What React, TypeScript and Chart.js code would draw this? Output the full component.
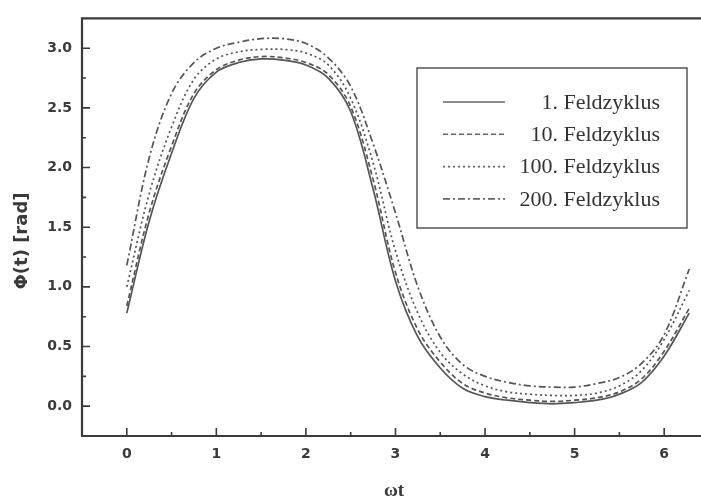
import { useEffect, useRef } from "react";
import { Chart, registerables } from "chart.js";

Chart.register(...registerables);

// Phase angle ωt (rad) at which each cycle was sampled
const PHASE = [0, 0.25, 0.5, 0.75, 1, 1.25, 1.5, 1.75, 2, 2.25, 2.5, 2.75, 3, 3.25, 3.5, 3.75, 4, 4.25, 4.5, 4.75, 5, 5.25, 5.5, 5.75, 6, 6.28];

// Φ(t) in rad for the individual field cycles
const CYCLE_1 = [0.78, 1.55, 2.12, 2.58, 2.8, 2.88, 2.91, 2.9, 2.86, 2.75, 2.47, 1.82, 1.05, 0.58, 0.32, 0.15, 0.08, 0.05, 0.03, 0.02, 0.03, 0.05, 0.1, 0.2, 0.42, 0.78];
const CYCLE_10 = [0.84, 1.62, 2.18, 2.62, 2.82, 2.9, 2.93, 2.92, 2.88, 2.78, 2.51, 1.9, 1.12, 0.64, 0.37, 0.19, 0.11, 0.07, 0.05, 0.04, 0.05, 0.07, 0.12, 0.23, 0.46, 0.82];
const CYCLE_100 = [1.0, 1.78, 2.34, 2.74, 2.91, 2.97, 2.99, 2.99, 2.96, 2.86, 2.58, 2.04, 1.3, 0.78, 0.45, 0.27, 0.17, 0.12, 0.1, 0.09, 0.09, 0.11, 0.17, 0.3, 0.56, 0.97];
const CYCLE_200 = [1.18, 2.08, 2.62, 2.88, 3.0, 3.05, 3.08, 3.08, 3.04, 2.92, 2.68, 2.2, 1.62, 1.0, 0.58, 0.35, 0.25, 0.2, 0.17, 0.16, 0.16, 0.19, 0.24, 0.36, 0.6, 1.15];

const SERIES_LABELS = ["1. Feldzyklus", "10. Feldzyklus", "100. Feldzyklus", "200. Feldzyklus"];

// Axis ticks
const X_TICKS = [0, 1, 2, 3, 4, 5, 6];
const X_MINOR = [0.5, 1.5, 2.5, 3.5, 4.5, 5.5];
const Y_TICKS = [0, 0.5, 1, 1.5, 2, 2.5, 3];
const Y_MINOR = [0.25, 0.75, 1.25, 1.75, 2.25, 2.75];

const X_TITLE = "ωt";
const Y_TITLE = "Φ(t) [rad]";

const INK = "#3a3a3a";
const LINE_INK = "#555555";
const DASHES: number[][] = [[], [5, 3], [2, 3], [7, 3, 2, 3]];

const framePlugin = {
  id: "frame",
  afterDraw(chart: any) {
    const { ctx, chartArea: a, scales } = chart;
    const xs = scales.x;
    const ys = scales.y;
    ctx.save();
    // axes box: top, left and bottom
    ctx.strokeStyle = INK;
    ctx.lineWidth = 2.2;
    ctx.beginPath();
    ctx.moveTo(chart.width, a.top);
    ctx.lineTo(a.left, a.top);
    ctx.lineTo(a.left, a.bottom);
    ctx.lineTo(chart.width, a.bottom);
    ctx.stroke();

    // inward tick marks
    ctx.lineWidth = 1.6;
    ctx.beginPath();
    X_TICKS.forEach((v) => {
      const px = xs.getPixelForValue(v);
      ctx.moveTo(px, a.bottom);
      ctx.lineTo(px, a.bottom - 8);
    });
    X_MINOR.forEach((v) => {
      const px = xs.getPixelForValue(v);
      ctx.moveTo(px, a.bottom);
      ctx.lineTo(px, a.bottom - 4);
    });
    Y_TICKS.forEach((v) => {
      const py = ys.getPixelForValue(v);
      ctx.moveTo(a.left, py);
      ctx.lineTo(a.left + 8, py);
    });
    Y_MINOR.forEach((v) => {
      const py = ys.getPixelForValue(v);
      ctx.moveTo(a.left, py);
      ctx.lineTo(a.left + 4, py);
    });
    ctx.stroke();

    // axis titles
    ctx.fillStyle = INK;
    ctx.textAlign = "center";
    ctx.textBaseline = "middle";
    ctx.font = "bold 19px 'Liberation Serif'";
    ctx.fillText(X_TITLE, 394, 491);
    ctx.save();
    ctx.translate(22, 241);
    ctx.rotate(-Math.PI / 2);
    ctx.font = "bold 18px 'DejaVu Sans'";
    ctx.fillText(Y_TITLE, 0, 0);
    ctx.restore();

    // legend box
    const bx = 417, by = 68, bw = 270, bh = 160;
    ctx.strokeStyle = "#555";
    ctx.lineWidth = 1.5;
    ctx.strokeRect(bx, by, bw, bh);
    ctx.font = "22px 'Liberation Serif'";
    ctx.textAlign = "right";
    ctx.textBaseline = "middle";
    SERIES_LABELS.forEach((label, i) => {
      const ry = by + 34 + i * 32.3;
      ctx.strokeStyle = "#666";
      ctx.lineWidth = 1.6;
      ctx.setLineDash(DASHES[i]);
      ctx.beginPath();
      ctx.moveTo(bx + 26, ry);
      ctx.lineTo(bx + 88, ry);
      ctx.stroke();
      ctx.setLineDash([]);
      ctx.fillStyle = "#333";
      ctx.fillText(label, bx + 243, ry + 1);
    });
    ctx.restore();
  },
};

export default function App() {
  const canvasRef = useRef<HTMLCanvasElement | null>(null);

  useEffect(() => {
    const canvas = canvasRef.current;
    if (!canvas) return;
    const series = [CYCLE_1, CYCLE_10, CYCLE_100, CYCLE_200];
    const chart = new Chart(canvas, {
      type: "line",
      data: {
        datasets: series.map((vals, i) => ({
          label: SERIES_LABELS[i],
          data: PHASE.map((t, k) => ({ x: t, y: vals[k] })),
          borderColor: LINE_INK,
          borderWidth: 1.7,
          borderDash: DASHES[i],
          pointRadius: 0,
          fill: false,
          tension: 0.35,
        })),
      },
      options: {
        responsive: false,
        animation: false,
        layout: { padding: { top: 8, right: 1, left: 0, bottom: 0 } },
        plugins: { legend: { display: false }, tooltip: { enabled: false } },
        scales: {
          x: {
            type: "linear",
            min: -0.5,
            max: 6.4,
            afterBuildTicks: (scale: any) => {
              scale.ticks = X_TICKS.map((v) => ({ value: v }));
            },
            afterFit: (scale: any) => {
              scale.height = 64;
            },
            grid: { display: false, drawTicks: false },
            border: { display: false },
            ticks: {
              padding: 10,
              maxRotation: 0,
              color: INK,
              font: { family: "DejaVu Sans", weight: "bold", size: 14 },
              callback: (v: any) => String(v),
            },
          },
          y: {
            type: "linear",
            min: -0.25,
            max: 3.25,
            afterBuildTicks: (scale: any) => {
              scale.ticks = Y_TICKS.map((v) => ({ value: v }));
            },
            afterFit: (scale: any) => {
              scale.width = 82;
            },
            grid: { display: false, drawTicks: false },
            border: { display: false },
            ticks: {
              padding: 10,
              color: INK,
              font: { family: "DejaVu Sans", weight: "bold", size: 14 },
              callback: (v: any) => Number(v).toFixed(1),
            },
          },
        },
      },
      plugins: [framePlugin],
    });
    return () => chart.destroy();
  }, []);

  return (
    <div style={{ position: "absolute", left: 0, top: 0, width: 701, height: 500, background: "#fff" }}>
      <canvas ref={canvasRef} width={701} height={500} style={{ display: "block" }} />
    </div>
  );
}
